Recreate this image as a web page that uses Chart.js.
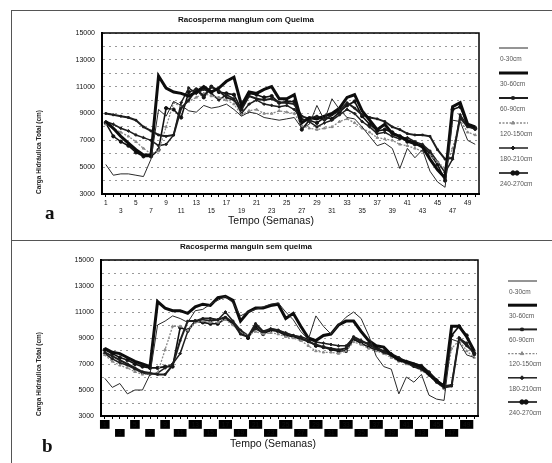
<!DOCTYPE html>
<html><head><meta charset="utf-8">
<script src="https://cdn.jsdelivr.net/npm/chart.js@4.4.1/dist/chart.umd.min.js"></script>
<style>
html,body{margin:0;padding:0;background:#fff;width:552px;height:463px;overflow:hidden;}
#frame{position:absolute;left:11px;top:10px;width:545px;height:460px;border-left:1px solid #555;border-top:1px solid #555;}
#sep{position:absolute;left:11px;top:240px;width:545px;border-top:1px solid #555;}
.wrap{position:absolute;left:0;width:552px;}
#wa{top:0;height:240px;} #wb{top:241px;height:222px;}
canvas{display:block;}
.tag{position:absolute;font-family:"Liberation Serif",serif;font-weight:bold;font-size:19px;line-height:19px;color:#111;}
</style></head><body>
<div id="frame"></div><div id="sep"></div>
<div class="wrap" id="wa"><canvas id="ca" width="552" height="240"></canvas></div>
<div class="wrap" id="wb"><canvas id="cb" width="552" height="222"></canvas></div>
<div class="tag" style="left:45px;top:203px">a</div>
<div class="tag" style="left:42px;top:436px">b</div>
<script>
const weeks = ['1','2','3','4','5','6','7','8','9','10','11','12','13','14','15','16','17','18','19','20','21','22','23','24','25','26','27','28','29','30','31','32','33','34','35','36','37','38','39','40','41','42','43','44','45','46','47','48','49','50'];
const yTickLabels = [3000,5000,7000,9000,11000,13000,15000];
const seriesNames = ['0-30cm','30-60cm','60-90cm','120-150cm','180-210cm','240-270cm'];
const titleA = 'Racosperma mangium com Queima';
const titleB = 'Racosperma manguin sem queima';
const xTitle = 'Tempo (Semanas)';
const yTitle = 'Carga Hidráulica Total (cm)';

// Panel a (com Queima)
const a_0_30   = [5200,4400,4500,4500,4400,4300,5600,9300,8800,9900,9600,9200,9100,9600,9400,9500,9700,9300,8800,9100,9000,8700,8600,8500,8600,8700,7900,8200,9600,8500,10100,9300,8700,8600,8000,7300,6600,6800,6400,4900,6400,5700,6300,4700,3900,3500,8500,8400,7000,6700];
const a_30_60  = [8400,7900,7300,6800,6300,5900,5900,11800,10900,10600,10500,10300,10600,11000,10600,10900,11400,11700,9600,10600,10500,10800,11000,10100,10100,10400,8300,8700,8600,8800,9000,9400,10200,10400,9200,8500,7800,8200,7500,7300,7000,6800,6500,5600,4800,4200,9500,9800,8200,8000];
const a_60_90  = [9000,8900,8800,8700,8500,8000,7700,7400,7300,7400,9400,10000,10800,10300,11000,10700,10200,10000,9300,10300,10100,10000,10100,9800,9800,9700,8800,8600,8800,8500,8900,9200,9800,9400,8900,8700,8600,8400,8000,7800,7500,7400,7400,7300,6300,5600,5700,8700,8000,7900];
const a_120_150= [8200,7900,7600,7300,6900,6400,6000,6200,8000,9800,9500,9900,10200,10500,10300,10200,10000,9700,8900,9200,9300,9000,9000,9200,9100,9000,8100,7900,7800,7900,8000,8400,8600,8300,7900,7600,7200,7100,7000,6700,6600,6400,6200,5900,5400,4900,6400,8500,7600,7400];
const a_180_210= [8400,8200,7900,7700,7400,7200,7000,6600,6700,7400,9800,10900,10500,10800,10500,10000,10400,10100,9000,9700,10000,9700,9600,9500,9600,9300,8600,8400,8000,8300,8500,8900,9300,9000,8400,8000,7500,7600,7300,7100,7200,6900,6700,6200,5400,4600,5600,8900,8100,7800];
const a_240_270= [8300,7300,6900,6600,6100,5800,5800,6300,9400,9300,8700,10600,10800,10200,11000,10600,10500,10400,9300,10500,10400,10200,10300,9800,9900,9900,7800,8500,8300,8700,8600,9100,9600,9900,8800,8200,7700,7800,7600,7300,6900,6700,6600,6000,5200,4000,9300,9500,8100,7900];

// Panel b (sem queima)
const b_0_30   = [5900,5200,5500,4700,5000,5000,6200,10000,10300,10700,10500,10200,11100,11200,11600,11900,12200,11700,10700,11000,11200,11400,11600,11700,11000,10400,9500,8900,10700,9900,9300,10000,10600,11000,10500,9200,7600,6800,6600,4700,6000,5600,6200,4600,4300,4200,8900,8700,7700,7500];
const b_30_60  = [8200,7900,7800,7500,7200,7000,6800,11800,11300,11100,11100,10900,11400,11600,11500,12100,12200,11900,10300,11000,11300,11300,11500,11600,10500,10900,9900,9000,8800,9200,9300,10000,10300,10300,9500,8800,8400,8300,7700,7300,7200,7000,6800,6200,5700,5300,9900,9900,9100,8000];
const b_60_90  = [7900,7600,7300,7000,6700,6400,6300,6200,6200,6900,8800,10300,10300,10500,10500,10400,10600,10200,9300,9100,10100,9500,9700,9600,9300,9200,9000,8700,8500,8300,8200,8100,8200,9100,8800,8500,8200,7900,7700,7400,7100,6800,6600,6200,5600,5200,5300,9000,8400,7900];
const b_120_150= [7700,7200,6900,6700,6400,6200,6200,6300,8100,9900,9900,9600,10200,10300,10200,10200,10400,10000,9400,9200,9500,9300,9400,9300,9100,9000,8800,8400,8000,7900,7900,7800,8000,8700,8500,8200,8000,7800,7500,7200,7000,6800,6500,6100,5600,5100,8200,8800,8000,7500];
const b_180_210= [7800,7400,7100,6900,6600,6300,6200,6300,6700,7000,7800,9500,10300,10400,10300,10400,11000,10300,9600,9200,9700,9400,9700,9600,9400,9200,9100,8900,8700,8600,8500,8400,8400,9000,8700,8600,8300,8000,7800,7500,7200,7000,6900,6400,5800,5300,5400,9000,8600,7700];
const b_240_270= [8100,7800,7500,7300,7000,6800,6700,6700,6800,6800,9800,9600,10300,10200,10100,10100,10500,10100,9500,9000,9900,9300,9600,9500,9200,9100,8900,8800,8400,8300,8100,8000,8000,8900,8600,8300,8100,7900,7700,7300,7100,6900,6700,6300,5700,5200,9200,9900,9200,7800];

const styles = [
  {borderColor:'#2a2a2a', borderWidth:1,   pointRadius:0},
  {borderColor:'#0d0d0d', borderWidth:3,   pointRadius:0},
  {borderColor:'#1e1e1e', borderWidth:2,   pointRadius:1.2, pointStyle:'rect'},
  {borderColor:'#8a8a8a', borderWidth:1.3, pointRadius:1.4, pointStyle:'triangle', borderDash:[2,1.5]},
  {borderColor:'#1e1e1e', borderWidth:1.5, pointRadius:1.4, pointStyle:'rectRot'},
  {borderColor:'#111111', borderWidth:1.6, pointRadius:1.6, pointStyle:'circle'}
];

Chart.defaults.font.family = '"Liberation Sans", Arial, sans-serif';
Chart.defaults.color = '#111';

const deco = {
  id: 'deco',
  afterDraw(chart, args, o) {
    const ctx = chart.ctx, ca = chart.chartArea;
    ctx.save();
    ctx.setLineDash([]);
    ctx.strokeStyle = '#000'; ctx.lineWidth = 1.5;
    ctx.strokeRect(ca.left, ca.top, ca.right - ca.left, ca.bottom - ca.top);
    ctx.fillStyle = '#111'; ctx.textAlign = 'center'; ctx.textBaseline = 'middle';
    ctx.font = 'bold 8px "Liberation Sans", Arial';
    ctx.fillText(o.title, o.titleX, o.titleY);
    ctx.font = '10.5px "Liberation Sans", Arial';
    ctx.fillText(o.xTitle, o.xTitleX, o.xTitleY);
    chart.data.datasets.forEach((ds, i) => {
      const y = o.legY + i * o.legStep;
      ctx.strokeStyle = ds.borderColor; ctx.fillStyle = ds.borderColor;
      ctx.lineWidth = ds.borderWidth; ctx.setLineDash(ds.borderDash || []);
      ctx.beginPath(); ctx.moveTo(o.legX, y); ctx.lineTo(o.legX + 29, y); ctx.stroke();
      ctx.setLineDash([]);
      if (ds.pointRadius > 0) {
        ctx.lineWidth = 1;
        Chart.helpers.drawPoint(ctx, {pointStyle: ds.pointStyle, rotation: 0, radius: ds.pointRadius + 0.6, borderWidth: 1}, o.legX + 14, y);
        if (ds.pointStyle === 'circle') Chart.helpers.drawPoint(ctx, {pointStyle: 'circle', rotation: 0, radius: ds.pointRadius + 0.6, borderWidth: 1}, o.legX + 18, y);
      }
      ctx.fillStyle = '#555'; ctx.font = '6.5px "Liberation Sans", Arial';
      ctx.textAlign = 'left'; ctx.textBaseline = 'middle';
      ctx.fillText(ds.label, o.legX + 1, y + 11);
    });
    ctx.restore();
  }
};

function makeChart(id, series, cfg) {
  const datasets = series.map((d, i) => Object.assign({
    label: seriesNames[i], data: d, fill: false, tension: 0,
    pointBorderWidth: 1, pointBackgroundColor: styles[i].borderColor, pointBorderColor: styles[i].borderColor
  }, styles[i]));
  const tickOpts = (rowMod) => ({
    autoSkip: false, maxRotation: 0, minRotation: 0,
    padding: rowMod === 0 ? 2 : 0,
    font: {size: 6.5}, color: '#111',
    callback: (v, i) => (i % 4 === rowMod) ? weeks[i] : '',
    showLabelBackdrop: cfg.boxes,
    backdropColor: (c) => (cfg.boxes && c.tick && c.tick.label) ? '#000' : 'rgba(0,0,0,0)',
    backdropPadding: {left: 3, right: 3, top: 1, bottom: 0}
  });
  return new Chart(document.getElementById(id), {
    type: 'line',
    data: {labels: weeks, datasets},
    options: {
      responsive: false, animation: false, devicePixelRatio: 1,
      layout: {padding: {left: 30, right: cfg.padRight, top: cfg.padTop, bottom: cfg.padBottom}},
      plugins: {legend: {display: false}, tooltip: {enabled: false}, deco: cfg.deco},
      elements: {line: {borderCapStyle: 'butt', borderJoinStyle: 'miter'}},
      scales: {
        x: {
          type: 'category', offset: true, position: 'bottom',
          grid: {display: true, drawOnChartArea: false, drawTicks: true, tickLength: 3, tickColor: '#000', tickWidth: 1},
          border: {display: true, color: '#000', width: 2},
          ticks: tickOpts(0),
          afterFit: (s) => { s.height = 13; }
        },
        x2: {
          type: 'category', offset: true, position: 'bottom',
          grid: {display: false, drawTicks: false},
          border: {display: false},
          ticks: tickOpts(2),
          afterFit: (s) => { s.height = 9; }
        },
        y: {
          type: 'linear', min: 3000, max: 15000,
          grid: {color: '#9a9a9a', lineWidth: 1, drawTicks: false},
          border: {display: true, color: '#000', width: 2, dash: [2, 4]},
          ticks: {stepSize: 1000, padding: 7, font: {size: 7}, color: '#111',
                  callback: (v) => yTickLabels.includes(v) ? String(v) : ''},
          title: {display: true, text: yTitle, align: 'start', font: {size: 6.5, weight: 'bold'}, color: '#222', padding: {top: 5, bottom: 0}},
          afterFit: (s) => { s.width = cfg.yWidth; }
        }
      }
    },
    plugins: [deco]
  });
}

makeChart('ca', [a_0_30, a_30_60, a_60_90, a_120_150, a_180_210, a_240_270], {
  boxes: false, padRight: 73, padTop: 33, padBottom: 24, yWidth: 72,
  deco: {title: titleA, titleX: 246, titleY: 20, xTitle: xTitle, xTitleX: 271, xTitleY: 221,
         legX: 499, legY: 48, legStep: 25}
});
makeChart('cb', [b_0_30, b_30_60, b_60_90, b_120_150, b_180_210, b_240_270], {
  boxes: true, padRight: 74, padTop: 19, padBottom: 25, yWidth: 71,
  deco: {title: titleB, titleX: 246, titleY: 6, xTitle: xTitle, xTitleX: 273, xTitleY: 203,
         legX: 508, legY: 40, legStep: 24.2}
});
</script>
</body></html>
